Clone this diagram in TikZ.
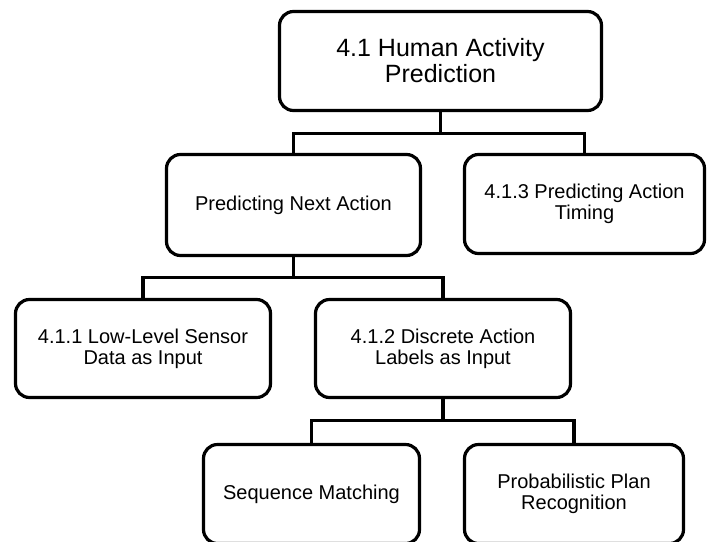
\documentclass[tikz,border=0pt]{standalone}
\usepackage{fontspec}
\setmainfont{Liberation Sans}
\usepackage{tikz}

\begin{document}
\begin{tikzpicture}[x=1pt,y=-1pt,
  box/.style={draw,line width=3.2pt,rounded corners=14pt,align=center,inner sep=0pt,
    font=\fontsize{20}{20.7}\selectfont,minimum height=99pt},
  link/.style={line width=3.2pt}]
  \clip (0,0) rectangle (708,541);
  \node[box,minimum width=322pt,font=\fontsize{25}{26}\selectfont] (top) at (440.5,61) {4.1 Human Activity\\Prediction};
  \node[box,minimum width=254pt,minimum height=101pt] (next) at (293.5,205) {Predicting Next Action};
  \node[box,minimum width=240pt] (timing) at (584.5,204) {4.1.3 Predicting Action\\Timing};
  \node[box,minimum width=255pt,minimum height=98pt] (lowlevel) at (143,348.5) {4.1.1 Low-Level Sensor\\Data as Input};
  \node[box,minimum width=255pt,minimum height=98pt] (discrete) at (443,348.5) {4.1.2 Discrete Action\\Labels as Input};
  \node[box,minimum width=216pt] (seq) at (311.5,494) {Sequence Matching};
  \node[box,minimum width=219pt] (plan) at (574,494) {Probabilistic Plan\\Recognition};
  \draw[link] (top.south) -- ++(0,21) -| (next.north);
  \draw[link] (top.south) -- ++(0,21) -| (timing.north);
  \draw[link] (next.south) -- ++(0,20) -| (lowlevel.north);
  \draw[link] (next.south) -- ++(0,20) -| (discrete.north);
  \draw[link] (discrete.south) -- ++(0,21) -| (seq.north);
  \draw[link] (discrete.south) -- ++(0,21) -| (plan.north);
\end{tikzpicture}
\end{document}
